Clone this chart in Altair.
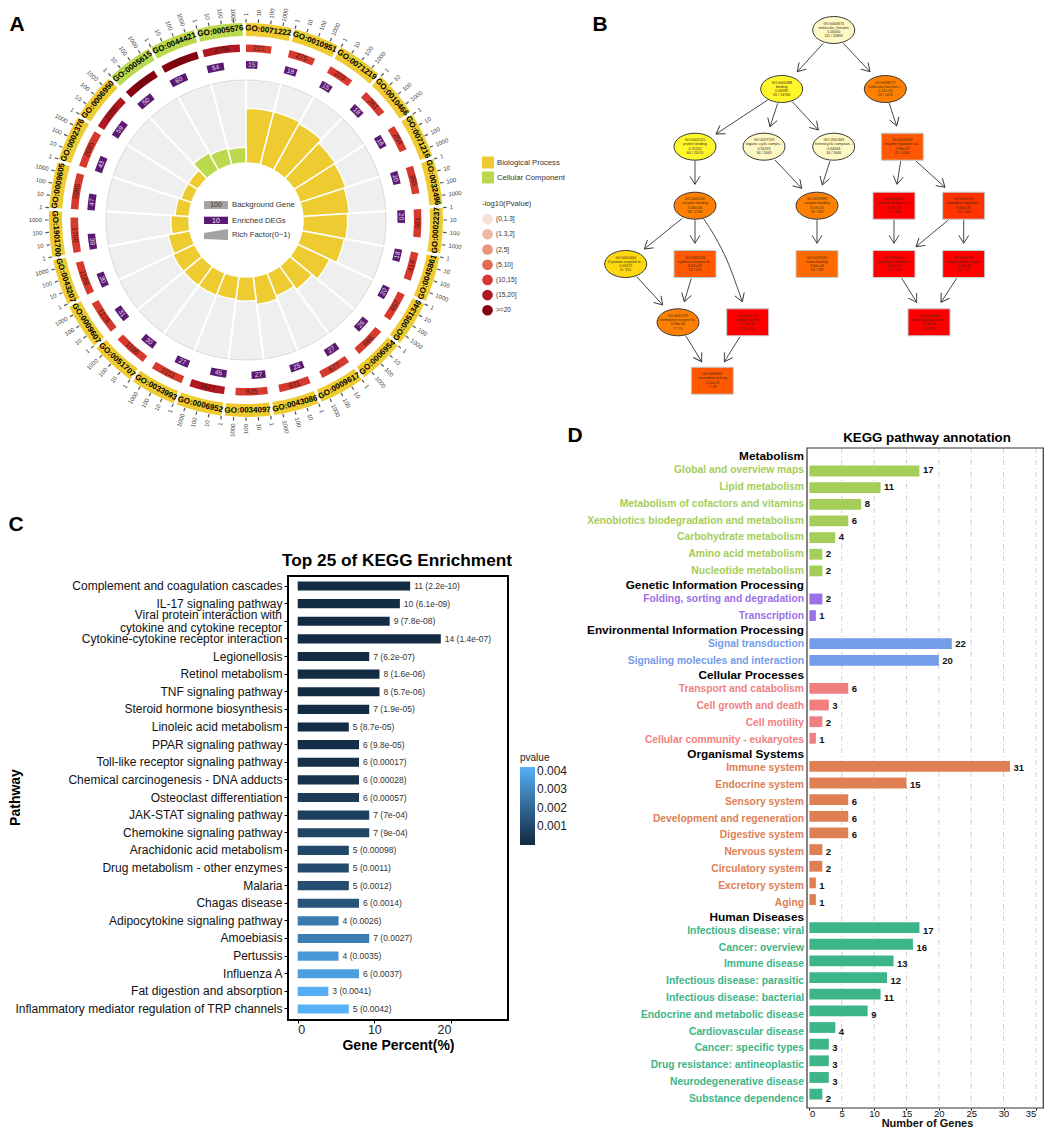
import math
import altair as alt
import pandas as pd

FONT = "Liberation Sans"
W, H = 1036, 1119
PX = alt.Scale(domain=[8, 8 + W], range=[0, W])
PY = alt.Scale(domain=[8, 8 + H], range=[0, H])

# ---------- Panel A values ----------
go_ids = ["GO:0071222", "GO:0010951", "GO:0071219", "GO:0010466", "GO:0071216", "GO:0032496", "GO:0002237",
          "GO:0045861", "GO:0051346", "GO:0006954", "GO:0009617", "GO:0043086", "GO:0034097", "GO:0006952",
          "GO:0033993", "GO:0051707", "GO:0009607", "GO:0043207", "GO:1901700", "GO:0009605", "GO:0002376",
          "GO:0006950", "GO:0005615", "GO:0044421", "GO:0005576"]
go_class = ["Biological Process"] * 22 + ["Cellular Component"] * 3
background = [222, 275, 229, 281, 254, 365, 381, 414, 467, 686, 677, 831, 925, 1677, 1011, 1186, 1228, 1189,
              1708, 2085, 2685, 2059, 1609, 3001, 2706]
enriched = [15, 18, 15, 18, 18, 20, 20, 18, 20, 26, 27, 25, 27, 45, 27, 30, 31, 30, 39, 47, 43, 59, 50, 60, 54]
rich = [.66, .66, .64, .59, .58, .56, .54, .52, .43, .35, .30, .34, .29, .28, .29, .29, .29, .27, .22, .17, .14,
        .14, .24, .21, .19]
plevel = ["(10,15]"] * 13 + ["(15,20]"] + ["(10,15]"] * 7 + ["(15,20]", ">=20", ">=20", "(15,20]"]
plevels = ["(0,1.3]", "(1.3,2]", "(2,5]", "(5,10]", "(10,15]", "(15,20]", ">=20"]
plevel_colors = ["#F7E0D5", "#EDB9A0", "#E8957A", "#DF6B50", "#D63A2E", "#AF1820", "#860010"]
ring_ticks = ["1", "10", "100", "1000"]

# ---------- Panel B values ----------
node_id = ["GO:0003674", "GO:0005488", "GO:0098772", "GO:0005515", "GO:0097159", "GO:1901363", "GO:0030234",
           "GO:0005102", "GO:0019899", "GO:0004857", "GO:0061134", "GO:0001664", "GO:0005126", "GO:0042379",
           "GO:0005125", "GO:0008009", "GO:0020037", "GO:0030414", "GO:0061135", "GO:0004866"]
node_name = ["molecular_function", "binding", "molecular function r...", "protein binding", "organic cyclic compo...",
             "heterocyclic compoun...", "enzyme regulator act...", "receptor binding", "enzyme binding",
             "enzyme inhibitor ac...", "peptidase regulator...", "G protein-coupled re...", "cytokine receptor bi...",
             "chemokine receptor b...", "cytokine activity", "chemokine activity", "heme binding",
             "peptidase inhibitor...", "endopeptidase regula...", "endopeptidase inhibit..."]
node_p = ["1.00000", "0.06985", "2.21e-05", "0.25202", "0.56243", "0.64043", "7.96e-07", "5.46e-06", "3.07e-05",
          "9.75e-09", "8.50e-09", "0.05072", "8.02e-07", "6.68e-06", "8.70e-09", "2.55e-07", "3.06e-06",
          "1.60e-09", "1.76e-08", "1.13e-08"]
node_count = ["111 / 20892", "65 / 14766", "23 / 1076", "60 / 11070", "34 / 5663", "34 / 5646", "22 / 1004",
              "28 / 1744", "18 / 181", "17 / 366", "15 / 256", "8 / 351", "15 / 270", "7 / 74", "16 / 235",
              "7 / 49", "15 / 182", "15 / 214", "13 / 227", "13 / 209"]
node_level = ["pale", "yellow", "orange", "yellow", "pale", "pale", "deep", "orange", "orange", "red", "scarlet",
              "gold", "deep", "orange", "red", "deep", "amber", "red", "red", "red"]
node_kind = ["e", "e", "e", "e", "e", "e", "r", "e", "e", "r", "r", "e", "r", "e", "r", "r", "r", "r", "r", "r"]
node_x = [833.7, 781.7, 885.3, 695, 764, 833.7, 902.3, 695, 817, 894, 963.7, 625.7, 695, 678, 747.7, 712.3, 817,
          894, 963.7, 929]
node_y = [30, 89, 89, 146.7, 146.7, 146.7, 146.7, 205.7, 205.7, 205.7, 205.7, 264, 264, 322.3, 322.3, 380.7, 264,
          264, 264, 322.3]
levels = ["pale", "yellow", "gold", "orange", "amber", "deep", "scarlet", "red"]
level_colors = ["#FDF8C4", "#FFF62B", "#FFD90F", "#FF8000", "#FF6A00", "#FF5800", "#FF3300", "#FF0000"]
edge_x0 = [823.3, 843.3, 767.7, 777.7, 792.3, 889, 775, 830, 900.7, 916, 695, 682.3, 695, 636.7, 691.3, 685.7, 740,
           817, 894, 948.3, 963.7, 901.7, 956.7]
edge_y0 = [43.3, 43.3, 100, 103.3, 101.7, 102.7, 160, 161, 161, 161, 160.7, 218.3, 220, 276.7, 278.3, 335.7, 336.7,
           220, 220, 220, 220, 278.3, 278.3]
edge_x1 = [797.3, 870, 716, 770, 818.3, 896.7, 801.7, 822.3, 897, 945, 695, 644.3, 695, 662.7, 684.3, 701.7, 724.3,
           817, 894, 916, 963.7, 916.7, 941]
edge_y1 = [71.7, 71.7, 134, 126.7, 130, 126, 188.3, 185, 184.3, 187.3, 184.3, 249, 243.3, 305, 301.7, 361.7, 361.7,
           243.3, 243.3, 246.7, 243.3, 302.3, 302.3]
curve_x = [703.3, 715, 728.3, 742.3]
curve_y = [218.3, 236.7, 263.3, 301.7]

# ---------- Panel C values ----------
c_names = ["Complement and coagulation cascades", "IL-17 signaling pathway",
           "Viral protein interaction with\ncytokine and cytokine receptor", "Cytokine-cytokine receptor interaction",
           "Legionellosis", "Retinol metabolism", "TNF signaling pathway", "Steroid hormone biosynthesis",
           "Linoleic acid metabolism", "PPAR signaling pathway", "Toll-like receptor signaling pathway",
           "Chemical carcinogenesis - DNA adducts", "Osteoclast differentiation", "JAK-STAT signaling pathway",
           "Chemokine signaling pathway", "Arachidonic acid metabolism", "Drug metabolism - other enzymes",
           "Malaria", "Chagas disease", "Adipocytokine signaling pathway", "Amoebiasis", "Pertussis", "Influenza A",
           "Fat digestion and absorption", "Inflammatory mediator regulation of TRP channels"]
c_percent = [14.67, 13.33, 12, 18.67, 9.33, 10.67, 10.67, 9.33, 6.67, 8, 8, 8, 8, 9.33, 9.33, 6.67, 6.67, 6.67, 8,
             5.33, 9.33, 5.33, 8, 4, 6.67]
c_genes = [11, 10, 9, 14, 7, 8, 8, 7, 5, 6, 6, 6, 6, 7, 7, 5, 5, 5, 6, 4, 7, 4, 6, 3, 5]
c_p = ["2.2e-10", "6.1e-09", "7.8e-08", "1.4e-07", "6.2e-07", "1.6e-06", "5.7e-06", "1.9e-05", "8.7e-05", "9.8e-05",
       "0.00017", "0.00028", "0.00057", "7e-04", "9e-04", "0.00098", "0.0011", "0.0012", "0.0014", "0.0026", "0.0027",
       "0.0035", "0.0037", "0.0041", "0.0042"]

# ---------- Panel D values ----------
d_headers = ["Metabolism", "Genetic Information Processing", "Environmental Information Processing",
             "Cellular Processes", "Organismal Systems", "Human Diseases"]
d_colors = ["#A5CD5A", "#9C70E8", "#739CE9", "#F27F80", "#DE8054", "#3CB588"]
d_names = [
    ["Global and overview maps", "Lipid metabolism", "Metabolism of cofactors and vitamins",
     "Xenobiotics biodegradation and metabolism", "Carbohydrate metabolism", "Amino acid metabolism",
     "Nucleotide metabolism"],
    ["Folding, sorting and degradation", "Transcription"],
    ["Signal transduction", "Signaling molecules and interaction"],
    ["Transport and catabolism", "Cell growth and death", "Cell motility", "Cellular community - eukaryotes"],
    ["Immune system", "Endocrine system", "Sensory system", "Development and regeneration", "Digestive system",
     "Nervous system", "Circulatory system", "Excretory system", "Aging"],
    ["Infectious disease: viral", "Cancer: overview", "Immune disease", "Infectious disease: parasitic",
     "Infectious disease: bacterial", "Endocrine and metabolic disease", "Cardiovascular disease",
     "Cancer: specific types", "Drug resistance: antineoplastic", "Neurodegenerative disease",
     "Substance dependence"],
]
d_values = [[17, 11, 8, 6, 4, 2, 2], [2, 1], [22, 20], [6, 3, 2, 1], [31, 15, 6, 6, 6, 2, 2, 1, 1],
            [17, 16, 13, 12, 11, 9, 4, 3, 3, 3, 2]]

# ---------- shared helpers ----------
CENTER_Y = 212
CX, CY = alt.value(238), alt.value(CENTER_Y)
TH = alt.Scale(domain=[0, 25], range=[0, 2 * math.pi])


def theta(f="t0"):
    return alt.Theta(f"{f}:Q", scale=TH, stack=None)


def px_x(f="x"):
    return alt.X(f"{f}:Q", scale=PX, axis=None)


def px_y(f="y"):
    return alt.Y(f"{f}:Q", scale=PY, axis=None)


def text_at(rows, **mark):
    base = dict(font=FONT, color="#000", align="center", baseline="middle")
    base.update(mark)
    return alt.Chart(pd.DataFrame(rows)).mark_text(**base).encode(x=px_x(), y=px_y(), text="t:N")


layers = []

# ---------- Panel A ----------
n = len(go_ids)
frame_a = pd.DataFrame(dict(go=go_ids, cls=go_class, bg=background, de=enriched, rich=rich, lvl=plevel))
frame_a["i"] = range(n)
frame_a["t0"] = frame_a.i
frame_a["t1"] = frame_a.i + 1
frame_a["g0"] = frame_a.i + 0.0
frame_a["g1"] = frame_a.i + 0.93
frame_a["r1"] = frame_a.i + frame_a.bg.map(math.log10) / 4
frame_a["p1"] = frame_a.i + frame_a.de.map(math.log10) / 4
frame_a["rm"] = (frame_a.i + frame_a.r1) / 2
frame_a["pm"] = (frame_a.i + frame_a.p1) / 2
frame_a["gm"] = frame_a.i + 0.465


def tangent(t):
    d = t * 14.4
    return d if (d < 90 or d > 270) else d + 180


for c in ["r", "p", "g"]:
    frame_a["a" + c] = frame_a[c + "m"].map(tangent)

# grey background sectors and rim
layers.append(alt.Chart(frame_a).mark_arc(radius=140, radius2=57, color="#EFEFEF", stroke="white", strokeWidth=2)
              .encode(x=CX, y=CY, theta=theta("t0"), theta2="t1:Q"))
frame_rim = frame_a.assign(t0=frame_a.i + 0.02, t1=frame_a.i + 0.98)
layers.append(alt.Chart(frame_rim).mark_arc(radius=140.5, radius2=139.2, color="#DDDDDD")
              .encode(x=CX, y=CY, theta=theta("t0"), theta2="t1:Q"))
cls_scale = alt.Scale(domain=["Biological Process", "Cellular Component"], range=["#EECB30", "#BBD94C"])
# rich factor bars
layers.append(alt.Chart(frame_a).mark_arc(stroke="white", strokeWidth=1.5).encode(
    x=CX, y=CY, theta=theta("t0"), theta2="t1:Q",
    radius=alt.Radius("rich:Q", scale=alt.Scale(type="linear", domain=[0, 1], range=[57, 140])),
    radius2=alt.value(57),
    color=alt.Color("cls:N", scale=cls_scale, legend=alt.Legend(
        title=None, orient="none", legendX=474, legendY=148.5, symbolType="square", symbolSize=144,
        symbolStrokeWidth=0, symbolOpacity=1, labelFontSize=7.7, labelColor="#333", labelFont=FONT, rowPadding=3,
        labelOffset=3)),
))
# outer id ring
layers.append(alt.Chart(frame_a).mark_arc(radius=197, radius2=184).encode(
    x=CX, y=CY, theta=theta("g0"), theta2="g1:Q", color=alt.Color("cls:N", scale=cls_scale, legend=None)))
layers.append(alt.Chart(frame_a).mark_text(font=FONT, fontWeight="bold", fontSize=8, color="#000", baseline="middle",
                                           align="center").encode(
    x=CX, y=CY, theta=theta("gm"), radius=alt.value(190.5), angle=alt.Angle("ag:Q", scale=None), text="go:N"))
# background ring
layers.append(alt.Chart(frame_a).mark_arc(radius=175.5, radius2=168).encode(
    x=CX, y=CY, theta=theta("t0"), theta2="r1:Q",
    color=alt.Color("lvl:N", scale=alt.Scale(domain=plevels, range=plevel_colors), legend=alt.Legend(
        title="-log10(Pvalue)", orient="none", legendX=474, legendY=192, symbolType="circle", symbolSize=113,
        symbolStrokeWidth=0, symbolOpacity=1, labelFontSize=6.6, labelColor="#333", labelFont=FONT, titleFont=FONT,
        titleFontSize=7.6, titleFontWeight="normal", titleColor="#333", rowPadding=4.2, labelOffset=3,
        titlePadding=6))))
layers.append(alt.Chart(frame_a).mark_text(font=FONT, fontSize=7, color="#4A1410", baseline="middle",
                                           align="center").encode(
    x=CX, y=CY, theta=theta("rm"), radius=alt.value(171.8), angle=alt.Angle("ar:Q", scale=None), text="bg:N"))
# enriched ring
layers.append(alt.Chart(frame_a).mark_arc(radius=159, radius2=151.5, color="#5B1A72").encode(
    x=CX, y=CY, theta=theta("t0"), theta2="p1:Q"))
layers.append(alt.Chart(frame_a).mark_text(font=FONT, fontSize=6.5, color="#E8DDEE", baseline="middle",
                                           align="center").encode(
    x=CX, y=CY, theta=theta("pm"), radius=alt.value(155.2), angle=alt.Angle("ap:Q", scale=None), text="de:N"))
# ring scale ticks: labels near the top edge are pulled inward just enough to stay on the page
rows = []
for i in range(n):
    for k, lab in enumerate(ring_ticks):
        t = i + k / 4
        d = t * 14.4
        cos_d = math.cos(math.radians(d))
        length = 3.34 * len(lab)
        rad = 204.0
        if cos_d > 0.5:
            rad = min(rad, (CENTER_Y - 0.5) / cos_d - length)
        rows.append(dict(t0=t - 0.012, t1=t + 0.012, t=t, lab=lab, rad=rad,
                         a=(d - 90 if d < 180 else d + 90), right=d < 180))
frame_t = pd.DataFrame(rows)
layers.append(alt.Chart(frame_t).mark_arc(radius=201, radius2=197.5, color="#555555").encode(
    x=CX, y=CY, theta=theta("t0"), theta2="t1:Q"))
for flag, al in [(True, "left"), (False, "right")]:
    layers.append(alt.Chart(frame_t[frame_t.right == flag]).mark_text(
        font=FONT, fontSize=6, color="#444", baseline="middle", align=al).encode(
        x=CX, y=CY, theta=theta("t"), radius=alt.Radius("rad:Q", scale=None), angle=alt.Angle("a:Q", scale=None),
        text="lab:N"))
# centre key
key_rects = pd.DataFrame(dict(x=[204, 204], x2=[228, 228], y=[201, 216.7], y2=[209, 224], k=["a", "b"]))
layers.append(alt.Chart(key_rects).mark_rect().encode(
    x=px_x(), x2="x2:Q", y=px_y(), y2="y2:Q",
    color=alt.Color("k:N", scale=alt.Scale(domain=["a", "b"], range=["#A3A3A3", "#5B1A72"]), legend=None)))
key_wedge = pd.DataFrame(dict(x=[204, 228], y=[233, 229], y2=[239, 240]))
layers.append(alt.Chart(key_wedge).mark_area(color="#A3A3A3", orient="vertical").encode(
    x=px_x(), y=px_y(), y2="y2:Q"))
layers.append(text_at(dict(x=[216], y=[205], t=["100"]), fontSize=7, color="#333"))
layers.append(text_at(dict(x=[216], y=[220.5], t=["10"]), fontSize=7, color="#EEE"))
layers.append(text_at(dict(x=[232, 232, 232], y=[205, 220.5, 235],
                           t=["Background Gene", "Enriched DEGs", "Rich Factor(0~1)"]),
                      fontSize=7.8, color="#333", align="left"))

# ---------- Panel B ----------
ELL = "M-1,0 A1,0.643 0 1 1 1,0 A1,0.643 0 1 1 -1,0 Z"
REC = "M-1,-0.643 L1,-0.643 L1,0.643 L-1,0.643 Z"
ARROW = "M-0.62,1 L0,0 L0.62,1"
frame_e = pd.DataFrame(dict(e=range(len(edge_x0)), x0=edge_x0, y0=edge_y0, x=edge_x1, y=edge_y1))
frame_e["a"] = [math.degrees(math.atan2(a - c, -(b - d))) for a, b, c, d in
                zip(edge_x1, edge_y1, edge_x0, edge_y0)]
layers.append(alt.Chart(frame_e).mark_rule(color="#333333", strokeWidth=0.9).encode(
    x=px_x("x0"), y=px_y("y0"), x2="x:Q", y2="y:Q"))
frame_c = pd.DataFrame(dict(x=curve_x, y=curve_y, o=range(len(curve_x))))
layers.append(alt.Chart(frame_c).mark_line(color="#333333", strokeWidth=0.9, interpolate="cardinal").encode(
    x=px_x(), y=px_y(), order="o:Q"))
frame_h = pd.concat([frame_e[["x", "y", "a"]], pd.DataFrame(dict(
    x=[curve_x[-1]], y=[curve_y[-1]],
    a=[math.degrees(math.atan2(curve_x[-1] - curve_x[-2], -(curve_y[-1] - curve_y[-2])))]))])
layers.append(alt.Chart(frame_h).mark_point(shape=ARROW, size=256, filled=False, color="#333333", strokeWidth=0.9,
                                            opacity=1).encode(
    x=px_x(), y=px_y(), angle=alt.Angle("a:Q", scale=None)))
frame_n = pd.DataFrame(dict(i=node_id, nm=node_name, p=node_p, c=node_count, lvl=node_level, kind=node_kind,
                            x=node_x, y=node_y))
frame_n["t"] = frame_n.i + "\n" + frame_n.nm + "\n" + frame_n.p + "\n" + frame_n.c
lvl_scale = alt.Scale(domain=levels, range=level_colors)
for kind, shape, stroke, sw in [("e", ELL, "#3A3A3A", 1), ("r", REC, "#BFD0D4", 1)]:
    layers.append(alt.Chart(frame_n[frame_n.kind == kind]).mark_point(
        shape=shape, size=1764, filled=True, opacity=1, stroke=stroke, strokeWidth=sw).encode(
        x=px_x(), y=px_y(), fill=alt.Fill("lvl:N", scale=lvl_scale, legend=None)))
layers.append(alt.Chart(frame_n).mark_text(font=FONT, fontSize=3.6, lineHeight=4.3, lineBreak="\n", color="#3A2A10",
                                           baseline="middle", align="center", dy=-6.5).encode(
    x=px_x(), y=px_y(), text="t:N"))

# ---------- Panel C ----------
CW = (alt.Scale(domain=[0, 20], range=[289.7, 443], zero=False, nice=False))
CB = alt.Scale(type="band", domain=c_names, range=[569.2, 1009.8], paddingInner=0.48, paddingOuter=0.24)
frame_cc = pd.DataFrame(dict(name=c_names, pct=c_percent, genes=c_genes, plab=c_p))
frame_cc["p"] = frame_cc.plab.astype(float)
frame_cc["lab"] = frame_cc.genes.astype(str) + " (" + frame_cc.plab + ")"
layers.append(alt.Chart(frame_cc).mark_bar().encode(
    x=alt.X("pct:Q", scale=CW, axis=alt.Axis(
        orient="bottom", offset=-(H - 1012), values=[0, 10, 20], title="Gene Percent(%)", titleFont=FONT,
        titleFontSize=14, titleFontWeight="bold", titleColor="#000", titleX=390, titleY=25, titleAlign="center",
        titleBaseline="middle", domain=False, grid=False,
        labelFont=FONT, labelFontSize=12.5, labelColor="#222", tickColor="#000", tickSize=3, labelPadding=0,
        format="d")),
    y=alt.Y("name:N", scale=CB, sort=None, axis=alt.Axis(
        orient="left", offset=-280, title="Pathway", titleFont=FONT, titleFontSize=14, titleFontWeight="bold",
        titleColor="#000", titleX=-273, titleY=789, titleAngle=-90, titleAlign="center", titleBaseline="middle",
        domain=False, grid=False, labelFont=FONT, labelFontSize=12, labelColor="#111", labelLimit=400, labelPadding=2,
        labelOverlap=False, labelExpr="indexof(datum.label,'\\n')>=0 ? '' : datum.label", tickColor="#000",
        tickSize=4)),
    color=alt.Color("p:Q", scale=alt.Scale(domain=[0, 0.0042], range=["#132B43", "#56B1F7"], interpolate="lab"),
                    legend=alt.Legend(title="pvalue", orient="none", legendX=512, legendY=745, gradientLength=78,
                                      gradientThickness=15, values=[0.001, 0.002, 0.003, 0.004], format=".3f",
                                      labelFont=FONT, labelFontSize=12, labelColor="#222", titleFont=FONT,
                                      titleFontSize=10, titleFontWeight="normal", titleColor="#222", titlePadding=4)),
))
layers.append(alt.Chart(frame_cc[frame_cc.name.str.contains("\n")]).mark_text(
    font=FONT, fontSize=12, lineHeight=13, lineBreak="\n", color="#111", align="right", baseline="middle",
    dy=-6.5).encode(
    x=alt.value(274), y=alt.Y("name:N", scale=CB, sort=None, axis=None), text="name:N"))
layers.append(alt.Chart(frame_cc).mark_text(font=FONT, fontSize=8.5, color="#333", align="left", baseline="middle",
                                            dx=4).encode(
    x=alt.X("pct:Q", scale=CW, axis=None),
    y=alt.Y("name:N", scale=CB, sort=None, axis=None), text="lab:N"))
frame_box = pd.DataFrame(dict(x=[288, 807], x2=[508, 1043.3], y=[576, 448], y2=[1020, 1108], w=["c", "d"]))
layers.append(alt.Chart(frame_box.iloc[[0]]).mark_rect(fillOpacity=0, stroke="#000", strokeWidth=2).encode(
    x=px_x(), x2="x2:Q", y=px_y(), y2="y2:Q"))

# ---------- Panel D ----------
rows = []
pos = 456.0
for g, head in enumerate(d_headers):
    if g:
        pos += 14.15
    rows.append(dict(name=head, n=None, g=head, pos=pos, head=True))
    pos += 14.15
    for j, (nm, v) in enumerate(zip(d_names[g], d_values[g])):
        if j:
            pos += 16.8
        rows.append(dict(name=nm, n=v, g=head, pos=pos, head=False))
frame_d = pd.DataFrame(rows)
frame_dv = frame_d[~frame_d["head"]]
DW = alt.Scale(domain=[0, 35], range=[801.4, 1027.9], zero=False, nice=False)
grid_vals = pd.DataFrame(dict(v=[5, 10, 15, 20, 25, 30, 35]))
layers.append(alt.Chart(grid_vals).mark_rule(color="#CFCFCF", strokeWidth=1, strokeDash=[5, 3, 1, 3]).encode(
    x=alt.X("v:Q", scale=DW, axis=None), y=alt.value(440), y2=alt.value(1100)))
g_scale = alt.Scale(domain=d_headers, range=d_colors)
layers.append(alt.Chart(frame_dv).mark_bar(orient="horizontal", size=10.8).encode(
    x=alt.X("n:Q", scale=DW, axis=alt.Axis(
        orient="bottom", offset=-(H - 1100), values=[0, 5, 10, 15, 20, 25, 30, 35], title="Number of Genes",
        titleFont=FONT, titleFontSize=11, titleFontWeight="bold", titleColor="#111", titleX=919, titleY=18.6,
        titleAlign="center", titleBaseline="alphabetic", domain=False,
        grid=False, labelFont=FONT, labelFontSize=9.5, labelColor="#111", tickColor="#000", tickSize=2,
        labelPadding=-1.5)),
    y=px_y("pos"),
    color=alt.Color("g:N", scale=g_scale, legend=None)))
layers.append(alt.Chart(frame_dv).mark_text(font=FONT, fontSize=9.5, fontWeight="bold", color="#111", align="left",
                                            baseline="middle", dx=3.5).encode(
    x=alt.X("n:Q", scale=DW, axis=None), y=px_y("pos"), text="n:Q"))
layers.append(alt.Chart(frame_dv).mark_text(font=FONT, fontSize=10.3, fontWeight="bold", align="right",
                                            baseline="middle").encode(
    x=alt.value(796), y=px_y("pos"), text="name:N",
    color=alt.Color("g:N", scale=g_scale, legend=None)))
layers.append(alt.Chart(frame_d[frame_d["head"]]).mark_text(font=FONT, fontSize=11.8, fontWeight="bold", align="right",
                                                            baseline="middle", color="#000").encode(
    x=alt.value(796), y=px_y("pos"), text="name:N"))
layers.append(alt.Chart(frame_box.iloc[[1]]).mark_rect(fillOpacity=0, stroke="#333", strokeWidth=1.2).encode(
    x=px_x(), x2="x2:Q", y=px_y(), y2="y2:Q"))

# ---------- titles and panel letters ----------
layers.append(text_at(dict(x=[397], y=[561], t=["Top 25 of KEGG Enrichment"]), fontSize=17.2, fontWeight="bold"))
layers.append(text_at(dict(x=[927], y=[438], t=["KEGG pathway annotation"]), fontSize=13.3, fontWeight="bold"))
layers.append(text_at(dict(x=[17, 600, 16, 575], y=[25, 25, 525, 436], t=["A", "B", "C", "D"]), fontSize=21,
                      fontWeight="bold"))

chart = alt.layer(*layers).resolve_scale(x="independent", y="independent", color="independent",
                                         fill="independent").resolve_legend(color="independent").properties(
    width=W, height=H, padding=0, autosize=alt.AutoSizeParams(type="none", contains="padding"),
).configure(font=FONT).configure_view(stroke=None)

chart.save("out.html", embed_options={"renderer": "svg", "actions": False})
